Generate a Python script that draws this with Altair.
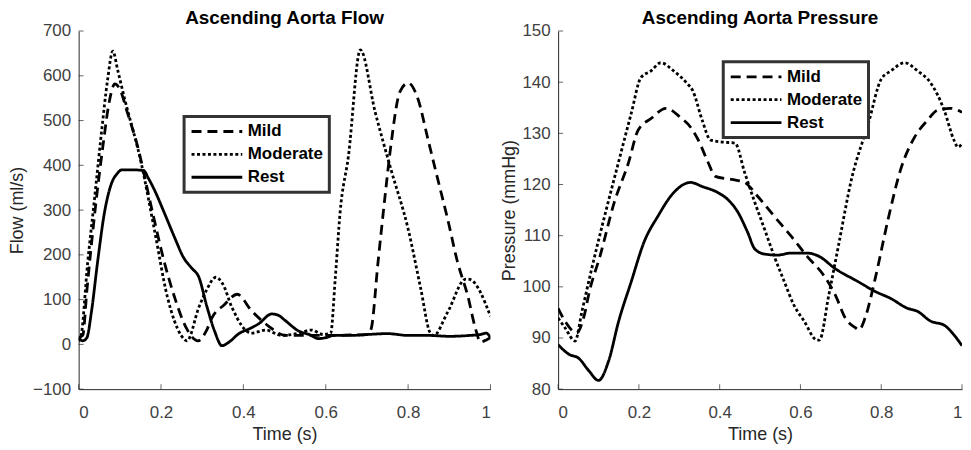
import altair as alt
import pandas as pd

# ---------------- data ----------------
series_names = ["Mild", "Moderate", "Rest"]

time_ticks = [0, 0.2, 0.4, 0.6, 0.8, 1]
flow_ticks = [-100, 0, 100, 200, 300, 400, 500, 600, 700]
pressure_ticks = [80, 90, 100, 110, 120, 130, 140, 150]

# Ascending aorta flow (ml/s)
flow_mild_t = [0, 0.01, 0.02, 0.04, 0.06, 0.075, 0.088, 0.10, 0.118, 0.143, 0.176, 0.208, 0.232, 0.263,
               0.29, 0.31, 0.324, 0.353, 0.385, 0.42, 0.461, 0.502, 0.541, 0.582, 0.62, 0.66, 0.70, 0.71,
               0.727, 0.744, 0.758, 0.78, 0.80, 0.824, 0.848, 0.872, 0.896, 0.92, 0.945, 0.964, 0.976, 0.99, 1.0]
flow_mild_v = [15, 20, 120, 300, 450, 545, 582, 570, 519, 443, 309, 184, 108, 34,
               8, 30, 60, 88, 112, 75, 41, 20, 20, 20, 20, 21, 22, 34,
               184, 331, 443, 564, 584, 548, 459, 369, 280, 184, 108, 34, 5, 10, 15]

flow_mod_t = [0, 0.005, 0.022, 0.039, 0.056, 0.07, 0.083, 0.095, 0.111, 0.152, 0.184, 0.215, 0.249, 0.263,
              0.292, 0.31, 0.333, 0.35, 0.372, 0.42, 0.454, 0.493, 0.534, 0.565, 0.594, 0.612, 0.623, 0.635,
              0.655, 0.684, 0.72, 0.758, 0.80, 0.831, 0.853, 0.862, 0.896, 0.94, 0.95, 1.0]
flow_mod_v = [8, 15, 183, 329, 478, 589, 655, 612, 551, 405, 256, 108, 20, 8,
              83, 120, 150, 135, 83, 25, 32, 20, 25, 32, 22, 25, 146, 296,
              420, 658, 519, 392, 258, 123, 27, 20, 72, 146, 145, 63]

flow_rest_t = [0, 0.01, 0.02, 0.031, 0.046, 0.063, 0.08, 0.094, 0.105, 0.13, 0.158, 0.17, 0.184, 0.208,
               0.232, 0.256, 0.275, 0.292, 0.311, 0.33, 0.348, 0.365, 0.389, 0.415, 0.437, 0.469, 0.485,
               0.502, 0.534, 0.56, 0.582, 0.60, 0.62, 0.66, 0.70, 0.75, 0.80, 0.85, 0.90, 0.95, 0.975, 0.99, 1.0]
flow_rest_v = [15, 8, 15, 72, 184, 296, 360, 382, 390, 390, 388, 370, 345, 294,
               241, 192, 170, 150, 86, 30, -3, 5, 24, 35, 46, 68, 65,
               53, 30, 22, 13, 15, 20, 20, 22, 24, 20, 20, 18, 20, 22, 25, 15]

# Ascending aorta pressure (mmHg)
pres_mild_t = [0, 0.017, 0.046, 0.064, 0.078, 0.103, 0.139, 0.174, 0.198, 0.23, 0.267, 0.303, 0.328, 0.347,
               0.372, 0.389, 0.43, 0.462, 0.494, 0.535, 0.577, 0.616, 0.658, 0.687, 0.711, 0.736, 0.745,
               0.76, 0.785, 0.817, 0.848, 0.883, 0.914, 0.939, 0.971, 1.0]
pres_mild_v = [95.8, 93.3, 91.0, 94.2, 99.3, 105.8, 116.5, 124.2, 130.6, 132.9, 134.9, 133.1, 131.2, 128.7,
               124.2, 121.6, 121.0, 120.4, 117.7, 113.8, 109.9, 106.0, 102.2, 98.3, 93.9, 92.0, 91.6,
               93.9, 101.6, 113.2, 122.9, 129.3, 132.5, 134.5, 134.9, 134.1]

pres_mod_t = [0, 0.017, 0.042, 0.059, 0.083, 0.115, 0.149, 0.181, 0.205, 0.23, 0.254, 0.286, 0.32, 0.333,
              0.357, 0.377, 0.406, 0.438, 0.462, 0.487, 0.511, 0.535, 0.56, 0.584, 0.609, 0.641, 0.647,
              0.670, 0.694, 0.726, 0.768, 0.80, 0.824, 0.858, 0.89, 0.922, 0.956, 0.98, 0.99, 1.0]
pres_mod_v = [93.9, 92.0, 89.4, 95.2, 103.5, 113.8, 124.2, 133.9, 140.9, 142.2, 143.8, 142.2, 139.7, 138.4,
              132.5, 128.7, 128.3, 128.1, 122.3, 116.5, 111.3, 106.0, 101.0, 96.4, 93.3, 89.6, 89.6,
              98.3, 108.0, 120.9, 131.9, 140.6, 142.2, 143.8, 142.2, 139.9, 134.5, 128.7, 127.3, 128.0]

pres_rest_t = [0, 0.027, 0.05, 0.076, 0.1, 0.125, 0.15, 0.181, 0.213, 0.247, 0.286, 0.328, 0.357, 0.396,
               0.421, 0.445, 0.469, 0.487, 0.511, 0.543, 0.577, 0.616, 0.645, 0.687, 0.743, 0.785, 0.824,
               0.865, 0.89, 0.922, 0.956, 0.98, 1.0]
pres_rest_v = [88.7, 86.8, 86.1, 83.6, 81.7, 85.5, 93.3, 101.0, 108.8, 113.8, 118.4, 120.4, 119.6, 118.4,
               117.0, 114.6, 110.7, 107.4, 106.4, 106.2, 106.6, 106.6, 106.0, 103.5, 101.0, 99.1, 97.7,
               95.8, 95.2, 93.3, 92.5, 90.6, 88.5]

# ---------------- styling ----------------
FONT = "Liberation Sans"
INK = "#262626"
LINE_W = 2.8
DASHES = [[10, 6], [3, 2.5], [1, 0]]
H = 360


def frame(parts):
    rows = []
    for name, ts, vs in parts:
        for t, v in zip(ts, vs):
            rows.append({"t": t, "v": v, "series": name})
    return pd.DataFrame(rows)


flow_df = frame([("Mild", flow_mild_t, flow_mild_v),
                 ("Moderate", flow_mod_t, flow_mod_v),
                 ("Rest", flow_rest_t, flow_rest_v)])
pres_df = frame([("Mild", pres_mild_t, pres_mild_v),
                 ("Moderate", pres_mod_t, pres_mod_v),
                 ("Rest", pres_rest_t, pres_rest_v)])


def panel(df, ydom, yticks, ytitle, title, width, lx, ly, extent, tpad):
    x_enc = alt.X("t:Q", scale=alt.Scale(domain=[0, 1], nice=False, zero=False),
                  axis=alt.Axis(values=time_ticks, format="~g", title="Time (s)",
                                labelPadding=16, titlePadding=5))
    y_enc = alt.Y("v:Q", scale=alt.Scale(domain=ydom, nice=False, zero=False),
                  axis=alt.Axis(values=yticks, title=ytitle, labelPadding=8,
                                minExtent=extent, maxExtent=extent, titlePadding=tpad))
    lines = alt.Chart(df).mark_line(strokeWidth=LINE_W, color="black", interpolate="monotone",
                                    strokeCap="butt", clip=True).encode(
        x=x_enc, y=y_enc,
        strokeDash=alt.StrokeDash(
            "series:N",
            scale=alt.Scale(domain=series_names, range=DASHES),
            legend=alt.Legend(title=None, orient="none", legendX=lx, legendY=ly,
                              symbolType="stroke", symbolSize=2600, symbolStrokeWidth=LINE_W,
                              symbolStrokeColor="black", labelFont=FONT, labelFontSize=17,
                              labelFontWeight="bold", labelColor="black", labelOffset=4,
                              strokeColor="#333333", fillColor="white", padding=6,
                              rowPadding=5, clipHeight=18),
        ),
    )
    xt = alt.Chart(pd.DataFrame({"t": time_ticks})).mark_tick(
        orient="vertical", size=5, thickness=1, color=INK).encode(x=x_enc, y=alt.value(H - 2.5))
    yt = alt.Chart(pd.DataFrame({"v": yticks})).mark_tick(
        orient="horizontal", size=5, thickness=1, color=INK).encode(y=y_enc, x=alt.value(2.5))
    return alt.layer(lines, xt, yt).properties(
        width=width, height=H,
        title=alt.TitleParams(title, anchor="middle"),
    )


left = panel(flow_df, [-100, 700], flow_ticks, "Flow (ml/s)", "Ascending Aorta Flow",
             414, 106, 86, 42, 10)
right = panel(pres_df, [80, 150], pressure_ticks, "Pressure (mmHg)", "Ascending Aorta Pressure",
              406, 166, 31, 37, 3)

chart = alt.hconcat(left, right, spacing=68, bounds="flush").resolve_scale(
    strokeDash="independent").resolve_legend(strokeDash="independent").properties(
    padding={"left": 1, "top": 0, "right": 0, "bottom": 0},
    background="white",
).configure_view(strokeWidth=0).configure_axis(
    grid=False, ticks=False, domainColor=INK, domainWidth=1,
    labelFont=FONT, labelFontSize=17, labelColor="#404040",
    titleFont=FONT, titleFontSize=18, titleFontWeight="normal", titleColor=INK,
).configure_title(
    font=FONT, fontSize=19, fontWeight="bold", color="black", offset=-6,
).configure_legend(strokeWidth=3)

chart.save("out.html", embed_options={"renderer": "svg", "actions": False})
